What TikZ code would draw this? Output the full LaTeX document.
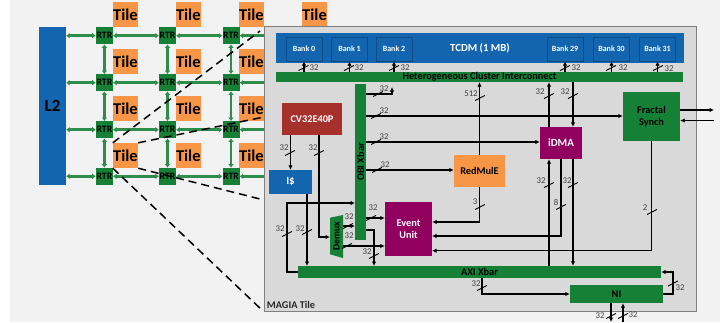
\documentclass[tikz,border=0pt]{standalone}
\usepackage{fontspec}
\setmainfont{Carlito}
\usepackage{xcolor}
\usetikzlibrary{arrows.meta,positioning,calc}
\definecolor{nocgreen}{HTML}{178037}
\definecolor{memblue}{HTML}{1265AE}
\definecolor{tileorange}{HTML}{F79646}
\definecolor{evpurple}{HTML}{92005F}
\definecolor{corered}{HTML}{A5302C}
\tikzset{
	blk/.style={inner sep=0pt, align=center, font=\fontsize{10.3}{12}\selectfont\bfseries},
	grn/.style={blk, fill=nocgreen, text=black},
	blu/.style={blk, fill=memblue, text=white},
	rtr/.style={grn, minimum width=17pt, minimum height=17pt, font=\fontsize{9.8}{10}\selectfont\bfseries},
	tile/.style={blk, fill=tileorange, minimum width=25pt, minimum height=25pt, font=\fontsize{16.5}{17}\selectfont\bfseries},
	bank/.style={blu, draw=memblue!75!black, minimum width=36pt, minimum height=24pt, font=\fontsize{8}{9}\selectfont\bfseries},
	noc/.style={>={Latex[length=3.5pt,width=6pt]}, <->, line width=2.5pt, draw=nocgreen!90!white},
	wire/.style={line width=1.05pt, draw=black},
	slash/.style={line width=0.9pt, draw=black},
	lbl/.style={inner sep=0pt, text=black!75, font=\fontsize{8.8}{10}\selectfont},
	zoomln/.style={line width=1.5pt, dash pattern=on 8pt off 5pt},
}
\newcommand{\busmark}[4]{\draw[slash] (#2)+(-5,2.6) -- +(5,-2.6); \node[lbl] (#1) at (#3) {#4};}
\begin{document}
\begin{tikzpicture}[x=1pt, y=-1pt, >={Latex[length=4.5pt,width=4.5pt]}]
	\useasboundingbox (0,0) rectangle (727,322);
	\fill[black!5] (10,0) rectangle (720,322);
	\node[blu, minimum width=27pt, minimum height=158pt, font=\fontsize{17}{18}\selectfont\bfseries, text=black] at (52.5,106) (ltwo) {L2};
	\foreach \c/\x in {1/104.4,2/167.5,3/231}
		\foreach \r/\y in {1/35.7,2/82.7,3/129.7,4/176.3}
			\node[rtr] at (\x,\y) (r\c\r) {RTR};
	\foreach \r in {1,2,3,4} {
		\coordinate (e\r) at (280,0 |- r3\r);
		\draw[noc] (ltwo.east |- r1\r) -- (r1\r.west);
		\draw[noc] (r1\r.east) -- (r2\r.west);
		\draw[noc] (r2\r.east) -- (r3\r.west);
		\draw[noc] (r3\r.east) -- (e\r);
	}
	\foreach \c in {1,2,3} {
		\draw[noc] (r\c1.south) -- (r\c2.north);
		\draw[noc] (r\c2.south) -- (r\c3.north);
		\draw[noc] (r\c3.south) -- (r\c4.north);
	}
	\foreach \c/\x in {1/125.5,2/188.3,3/251.5}
		\foreach \r/\y in {1/14.7,2/61.5,3/108.5,4/155.5}
			\node[tile] at (\x,\y) (t\c\r) {Tile};
	\node[tile] at (314.5,14.7) (t41) {Tile};
	\node[draw=black!50, fill=black!15, line width=1pt, minimum width=432pt, minimum height=285pt, inner sep=0pt] at (480,168.5) (panel) {};
	\coordinate (pa) at (264,117);
	\coordinate (pb) at (264,200);
	\coordinate (pc) at (260,31);
	\draw[zoomln] (t14.north west) -- (pc);
	\draw[zoomln] (t14.north east) -- (pa);
	\draw[zoomln] (t14.south east) -- (pb);
	\draw[zoomln] (t14.south west) -- (panel.south west);
	\node[blu, minimum width=408pt, minimum height=30pt, font=\fontsize{10.8}{12}\selectfont\bfseries] at (480,48) (tcdm) {TCDM (1 MB)};
	\node[bank] at (304,49) (b0) {Bank 0};
	\node[bank] at (349.5,49) (b1) {Bank 1};
	\node[bank] at (394,49) (b2) {Bank 2};
	\node[bank] at (565,49) (b29) {Bank 29};
	\node[bank] at (611.5,49) (b30) {Bank 30};
	\node[bank] at (657.5,49) (b31) {Bank 31};
	\node[grn, minimum width=407pt, minimum height=10pt] at (479.5,77) (hci) {Heterogeneous Cluster Interconnect};
	\node[grn, rotate=90, minimum width=156pt, minimum height=11pt] at (360.5,162) (obi) {OBI Xbar};
	\node[blk, fill=corered, text=white, minimum width=60pt, minimum height=32pt] at (312,119) (core) {CV32E40P};
	\node[blu, minimum width=43pt, minimum height=24pt, font=\fontsize{11}{12}\selectfont\bfseries] at (290.5,182) (icache) {I\$};
	\node[blk, fill=tileorange, minimum width=51pt, minimum height=32pt] at (479.5,171) (redmule) {RedMulE};
	\node[blk, fill=evpurple, text=white, minimum width=42pt, minimum height=32pt, font=\fontsize{11}{12}\selectfont\bfseries] at (561,143) (idma) {iDMA};
	\node[grn, minimum width=57pt, minimum height=49pt, font=\fontsize{10.3}{12.4}\selectfont\bfseries] at (651.5,116.5) (synch) {Fractal\\Synch};
	\node[blk, fill=evpurple, text=white, minimum width=47pt, minimum height=54pt, font=\fontsize{10.3}{12.4}\selectfont\bfseries] at (408.5,229) (event) {Event\\Unit};
	\node[grn, minimum width=363pt, minimum height=12pt] at (479.5,272) (axi) {AXI Xbar};
	\node[grn, minimum width=93pt, minimum height=18pt] at (616.5,294) (ni) {NI};
	\fill[nocgreen] (330,217.7) -- (343,215) -- (343,258) -- (330,254.3) -- cycle;
	\node[blk, rotate=90, minimum width=37pt, minimum height=13pt, font=\fontsize{9.8}{10}\selectfont\bfseries] at (336.5,236) (demux) {Demux};
	\node[blk, text=black!85] at (291,305) (magia) {MAGIA Tile};
	\foreach \b in {b0,b1,b2,b29,b30,b31}
		\draw[wire,->] (hci.north -| \b) -- (\b.south);
	\foreach \n/\y in {a/94,b/116,c/142,d/170,e/218,f/230}
		\coordinate (obi\n) at (366,\y);
	\coordinate (obig) at (355,203);
	\coordinate (obih) at (355,226);
	\coordinate (hcia) at (392,87);
	\coordinate (dema) at (343,226);
	\coordinate (demb) at (343,246);
	\coordinate (demc) at (330,237);
	\coordinate (axia) at (298,272);
	\coordinate (axib) at (307,266);
	\coordinate (axic) at (374,266);
	\coordinate (axid) at (482,278);
	\coordinate (evb) at (432,236);
	\coordinate (evc) at (432,250.7);
	\coordinate (nib) at (663,294);
	\coordinate (nic) at (611,322);
	\coordinate (nid) at (623,322);
	\coordinate (fra) at (714,110);
	\coordinate (frb) at (714,120.5);
	\draw[wire,->] (obia) -| (hcia);
	\draw[wire,->] (obib) -- (obib -| synch.west);
	\draw[wire,->] (obic) -- (obic -| idma.west);
	\draw[wire,->] (obid) -- (obid -| redmule.west);
	\draw[wire,->] (obie) -- (obie -| event.west);
	\draw[wire,->] (obif) -| (axic);
	\draw[wire,->] (core.south -| icache.north) -- (icache.north);
	\draw[wire,->] ([xshift=7pt]core.south) |- (demc);
	\draw[wire,->] (icache.south -| axib) -- (axib);
	\draw[wire,->] (axia) -- (287,272) |- (obig);
	\draw[wire,->] (dema) -- (obih);
	\draw[wire,->] (demb) -- (demb -| event.west);
	\draw[wire,->] (redmule.north) -- (redmule.north |- hci.south);
	\draw[wire,->] (redmule.south) |- ([yshift=7pt]event.east);
	\draw[wire,->] ([xshift=-12pt]idma.north) -- ([xshift=-12pt]idma.north |- hci.south);
	\draw[wire,->] ([xshift=12pt]idma.north |- hci.south) -- ([xshift=12pt]idma.north);
	\draw[wire,->] ([xshift=-12pt]idma.south |- axi.north) -- ([xshift=-12pt]idma.south);
	\draw[wire,->] ([xshift=12pt]idma.south) -- ([xshift=12pt]idma.south |- axi.north);
	\draw[wire,->] (idma.south) |- (evb);
	\draw[wire,->] (synch.south) |- (evc);
	\draw[wire,->] ([yshift=6.5pt]synch.east) -- (fra);
	\draw[wire,->] (frb) -- (frb -| synch.east);
	\draw[wire,->] (axid) |- (ni.west);
	\draw[wire,->] (nib) -- (673,294) |- (axi.east);
	\draw[wire,->] (ni.south -| nic) -- (nic);
	\draw[wire,->] (nid) -- (ni.south -| nid);
	\busmark{lb0}{303.5,68}{314,68}{32}
	\busmark{lb1}{349,68}{359,68}{32}
	\busmark{lb2}{394,68}{405,68}{32}
	\busmark{lb29}{565,68}{576,68}{32}
	\busmark{lb30}{611,68}{623,68}{32}
	\busmark{lb31}{658,68}{669,68.5}{32}
	\busmark{la}{378,94}{384,89}{32}
	\busmark{lc}{376,116}{384,111}{32}
	\busmark{ld}{376,142}{384,137}{32}
	\busmark{le}{377,170}{385,165}{32}
	\busmark{lf}{480,98}{471,94}{512}
	\busmark{lg}{549,96}{540,92}{32}
	\busmark{lh}{573,96}{565,92}{32}
	\busmark{li}{290,153}{284,148}{32}
	\busmark{lj}{319,153}{313,148}{32}
	\busmark{lk}{307,232}{300,229}{32}
	\busmark{ll}{287,234}{280,229}{32}
	\busmark{lm}{371,218}{373,208}{32}
	\busmark{ln}{348,226}{349,216.5}{32}
	\busmark{lo}{347,246}{349,236}{32}
	\busmark{lp}{374,256}{367,252}{32}
	\busmark{lq}{480,207}{475,202}{3}
	\busmark{lr}{549,185}{541,181}{32}
	\busmark{ls}{573,185}{567,181}{32}
	\busmark{lt}{561,207}{556,203}{8}
	\busmark{lu}{652,212}{645,208}{2}
	\busmark{lv}{482,288}{476,284}{32}
	\busmark{lw}{673,283.5}{680,288}{32}
	\busmark{lx}{611,316}{600,316}{32}
	\busmark{ly}{623,316}{633,315}{32}
\end{tikzpicture}
\end{document}
